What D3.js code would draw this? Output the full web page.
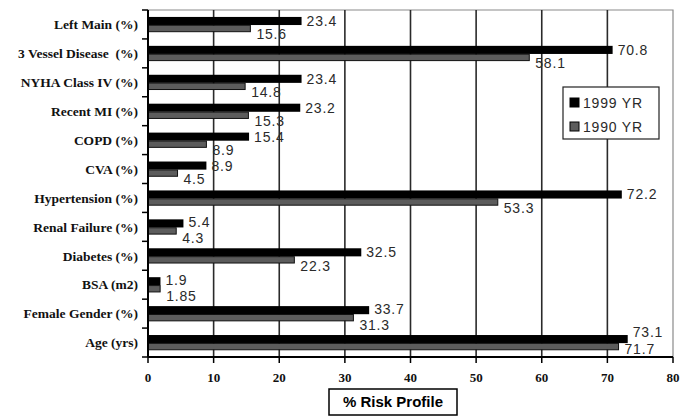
<!DOCTYPE html>
<html><head><meta charset="utf-8">
<script src="https://cdn.jsdelivr.net/npm/d3@7"></script>
<style>body{margin:0;background:#fff}svg{display:block}</style>
</head><body>
<svg id="c" width="680" height="417"></svg>
<script>
const categories = ["Left Main (%)","3 Vessel Disease  (%)","NYHA Class IV (%)","Recent MI (%)","COPD (%)","CVA (%)","Hypertension (%)","Renal Failure (%)","Diabetes (%)","BSA (m2)","Female Gender (%)","Age (yrs)"];
const values1999 = [23.4,70.8,23.4,23.2,15.4,8.9,72.2,5.4,32.5,1.9,33.7,73.1];
const values1990 = [15.6,58.1,14.8,15.3,8.9,4.5,53.3,4.3,22.3,1.85,31.3,71.7];
const labels1999 = ["23.4","70.8","23.4","23.2","15.4","8.9","72.2","5.4","32.5","1.9","33.7","73.1"];
const labels1990 = ["15.6","58.1","14.8","15.3","8.9","4.5","53.3","4.3","22.3","1.85","31.3","71.7"];
const seriesNames = ["1999 YR","1990 YR"];
const xTicks = [0,10,20,30,40,50,60,70,80];
const axisTitle = "% Risk Profile";

const svg = d3.select("#c");
const L=148, R=673, T=10, B=357;
const x = d3.scaleLinear().domain([0,80]).range([L,R]);
const y = d3.scaleBand().domain(categories).range([T,B]);
const bw = y.bandwidth();
const col1999="#000", col1990="#5c5c5c";

// plot border (top/right)
svg.append("path").attr("d",`M${L},${T}H${R}V${B}`).attr("fill","none").attr("stroke","#8a8a8a").attr("stroke-width",1.2);
// gridlines
svg.selectAll("line.g").data(xTicks.slice(1,-1)).join("line")
  .attr("x1",d=>x(d)).attr("x2",d=>x(d)).attr("y1",T).attr("y2",B)
  .attr("stroke","#2a2a2a").attr("stroke-width",1.6);

// bars
const g = svg.append("g");
categories.forEach((c,i)=>{
  const y0 = y(c);
  g.append("rect").attr("x",x(0)).attr("y",y0+bw*0.24).attr("width",x(values1999[i])-x(0)).attr("height",bw*0.28).attr("fill",col1999);
  g.append("rect").attr("x",x(0)+0.5).attr("y",y0+bw*0.53).attr("width",x(values1990[i])-x(0)-0.5).attr("height",bw*0.22)
    .attr("fill",col1990).attr("stroke","#111").attr("stroke-width",1);
});

// data labels with simple vertical collision avoidance
const lblStyle = s=>s.attr("font-family","'Liberation Sans',Arial,sans-serif").attr("font-size",14).attr("letter-spacing",0.8).attr("fill","#2a2a2a");
const lbls = [];
categories.forEach((c,i)=>{
  const y0=y(c);
  lbls.push({x:x(values1999[i])+5, y:y0+bw*0.38, t:labels1999[i]});
  lbls.push({x:x(values1990[i])+6, y:y0+bw*0.85, t:labels1990[i]});
});
const lt = g.selectAll("text.dl").data(lbls).join("text").attr("class","dl")
  .attr("x",d=>d.x).attr("dy","0.35em").text(d=>d.t).call(lblStyle);
lt.each(function(d){ d.w = this.getComputedTextLength()+4; });
const minGap = 16.5;
for(let it=0; it<80; it++){
  for(let a=0;a<lbls.length;a++) for(let b=a+1;b<lbls.length;b++){
    const p=lbls[a], q=lbls[b];
    if(p.x < q.x+q.w && q.x < p.x+p.w){
      const dy=q.y-p.y, ad=Math.abs(dy);
      if(ad<minGap){
        const s=(minGap-ad)/2*(dy>=0?1:-1);
        p.y-=s; q.y+=s;
      }
    }
  }
  lbls.forEach(d=>{ d.y=Math.max(T+2, Math.min(B-8, d.y)); });
}
lt.attr("y",d=>d.y);

// y axis
const ya = svg.append("g").attr("transform",`translate(${L},0)`);
ya.append("line").attr("x1",0).attr("x2",0).attr("y1",T).attr("y2",B).attr("stroke","#000").attr("stroke-width",2);
const bounds = categories.map(c=>y(c)).concat([B]);
ya.selectAll("line.t").data(bounds).join("line").attr("x1",-6).attr("x2",0).attr("y1",d=>d).attr("y2",d=>d).attr("stroke","#000").attr("stroke-width",1.5);
ya.selectAll("text").data(categories).join("text")
  .attr("x",-10).attr("y",d=>y(d)+bw/2).attr("dy","0.35em").attr("text-anchor","end")
  .attr("font-family","'Liberation Serif','Times New Roman',serif").attr("font-size",13.5).attr("font-weight","bold").attr("fill","#111")
  .attr("xml:space","preserve").style("white-space","pre").text(d=>d);

// x axis
const xa = svg.append("g").attr("transform",`translate(0,${B})`);
xa.append("line").attr("x1",L).attr("x2",R).attr("stroke","#000").attr("stroke-width",2);
xa.selectAll("line.t").data(xTicks).join("line").attr("x1",d=>x(d)).attr("x2",d=>x(d)).attr("y1",0).attr("y2",6).attr("stroke","#000").attr("stroke-width",1.5);
xa.selectAll("text").data(xTicks).join("text").attr("x",d=>x(d)).attr("y",25).attr("text-anchor","middle")
  .attr("font-family","'Liberation Serif','Times New Roman',serif").attr("font-size",13).attr("font-weight","bold").attr("fill","#111").text(d=>d);

// axis title box
const tt = svg.append("g");
tt.append("rect").attr("x",329).attr("y",389).attr("width",128).attr("height",26).attr("fill","#fff").attr("stroke","#000").attr("stroke-width",1.5);
tt.append("text").attr("x",393).attr("y",402).attr("dy","0.36em").attr("text-anchor","middle")
  .attr("font-family","'Liberation Sans',Arial,sans-serif").attr("font-size",15).attr("font-weight","bold").attr("fill","#000").text(axisTitle);

// legend
const lg = svg.append("g");
lg.append("rect").attr("x",563).attr("y",87).attr("width",96).attr("height",52).attr("fill","#fff").attr("stroke","#222").attr("stroke-width",1.2);
[col1999,col1990].forEach((cc,i)=>{
  lg.append("rect").attr("x",570).attr("y",98+i*24).attr("width",9).attr("height",9).attr("fill",cc).attr("stroke","#000").attr("stroke-width",1);
  lg.append("text").attr("x",583).attr("y",103+i*24).attr("dy","0.36em").text(seriesNames[i]).call(lblStyle);
});
</script>
</body></html>
